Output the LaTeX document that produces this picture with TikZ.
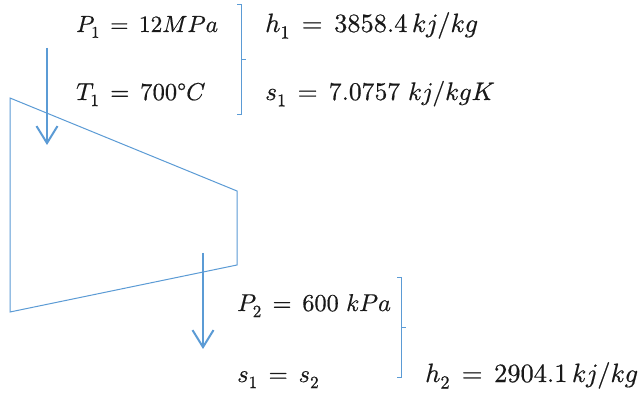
\documentclass[tikz,border=0pt]{standalone}
\usepackage{fontspec}
\usepackage{unicode-math}
\setmathfont[FakeBold=0.5]{Latin Modern Math}
\usetikzlibrary{arrows.meta}
\definecolor{lineblue}{HTML}{5B9BD5}
\tikzset{
  shapeline/.style={draw=lineblue,line width=1pt},
  flow/.style={draw=lineblue,line width=2pt,-{Straight Barb[length=17pt,width=21pt,line width=2pt]}},
  eq/.style={anchor=base west,inner sep=0pt,font=\fontsize{#1}{28}\selectfont,text=black!90}
}
\begin{document}
\begin{tikzpicture}[x=1pt,y=-1pt]
\useasboundingbox (0,0) rectangle (640,395);
\fill[white] (0,0) rectangle (640,395);
\coordinate (t1) at (10,98);
\coordinate (t2) at (237,191);
\coordinate (t3) at (237,265);
\coordinate (t4) at (10,312);
\draw[shapeline] (t1) -- (t2) -- (t3) -- (t4) -- cycle;
\coordinate (a1) at (47,48);
\coordinate (a2) at (47,145);
\coordinate (b1) at (203,253);
\coordinate (b2) at (203,349);
\draw[flow] (a1) -- (a2);
\draw[flow] (b1) -- (b2);
\coordinate (c1) at (237,5);
\coordinate (c2) at (241.5,5);
\coordinate (c3) at (241.5,60);
\coordinate (c4) at (241.5,115);
\coordinate (c5) at (237,115);
\coordinate (c6) at (246,60);
\draw[shapeline] (c1) -- (c2) -- (c4) -- (c5);
\draw[shapeline] (c3) -- (c6);
\coordinate (d1) at (397,278);
\coordinate (d2) at (401.5,278);
\coordinate (d3) at (401.5,328);
\coordinate (d4) at (401.5,377);
\coordinate (d5) at (397,377);
\coordinate (d6) at (406,328);
\draw[shapeline] (d1) -- (d2) -- (d4) -- (d5);
\draw[shapeline] (d3) -- (d6);
\node[eq=23.4] (e1) at (76,32) {$P_1\,=\,12MPa$};
\node[eq=24.4] (e2) at (76,100) {$T_1\,=\,700°C$};
\node[eq=26.4] (e3) at (265,32) {$h_1\,=\,3858.4\,kj/kg$};
\node[eq=25.4] (e4) at (265,100) {$s_1\,=\,7.0757\ kj/kgK$};
\node[eq=24.3] (e5) at (237,311) {$P_2\,=\,600\ kPa$};
\node[eq=24.5] (e6) at (237,382) {$s_1\,=\,s_2$};
\node[eq=26.4] (e7) at (425,382) {$h_2\,=\,2904.1\,kj/kg$};
\end{tikzpicture}
\end{document}
